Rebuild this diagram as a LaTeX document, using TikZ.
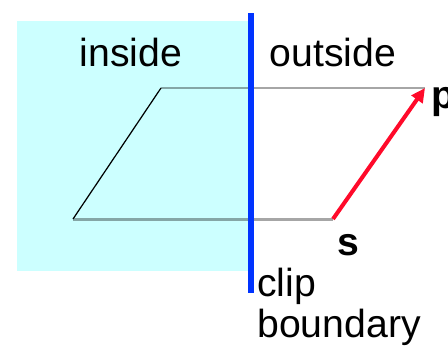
\documentclass[tikz,border=0pt]{standalone}
\usepackage{fontspec}
\setmainfont{Liberation Sans}
\usetikzlibrary{arrows.meta}
\definecolor{insideC}{HTML}{CCFFFF}
\definecolor{clipB}{HTML}{0033FF}
\definecolor{redV}{HTML}{FF0A2A}
\begin{document}
\begin{tikzpicture}[
  x=0.02cm, y=-0.02cm,
  lbl/.style={inner sep=0pt, font=\fontsize{22.3}{23.2}\selectfont},
  bold lbl/.style={lbl, font=\fontsize{22.3}{23.2}\selectfont\bfseries},
  edge/.style={black, opacity=0.35, line width=1.7pt},
]
\useasboundingbox (0,0) rectangle (448,345);
% inside region
\fill[insideC] (17,21) rectangle (250,271);
% polygon
\coordinate (a) at (73,219);
\coordinate (b) at (161,88);
\coordinate (p) at (425,88);
\coordinate (s) at (333,219);
\draw[edge] (b) -- (p);
\draw[edge] (a) -- (s);
\draw[black, line width=0.7pt] (a) -- (b);
% clip boundary
\coordinate (ctop) at (251,13);
\coordinate (cbot) at (251,293);
\draw[clipB, line width=3.4pt] (ctop) -- (cbot);
% edge s -> p
\draw[redV, line width=2.3pt, -{Triangle[length=8pt,width=7.5pt]}] (s) -- (p);
% labels
\node[lbl, anchor=base] (inL) at (131,66) {inside};
\node[lbl, anchor=base] (outL) at (333,66) {outside};
\node[bold lbl, anchor=base west] (pL) at (431,108) {p};
\node[bold lbl, anchor=base] (sL) at (348,255) {s};
\node[lbl, anchor=base west, align=left] (clipL) at (257,337) {clip\\boundary};
\end{tikzpicture}
\end{document}
